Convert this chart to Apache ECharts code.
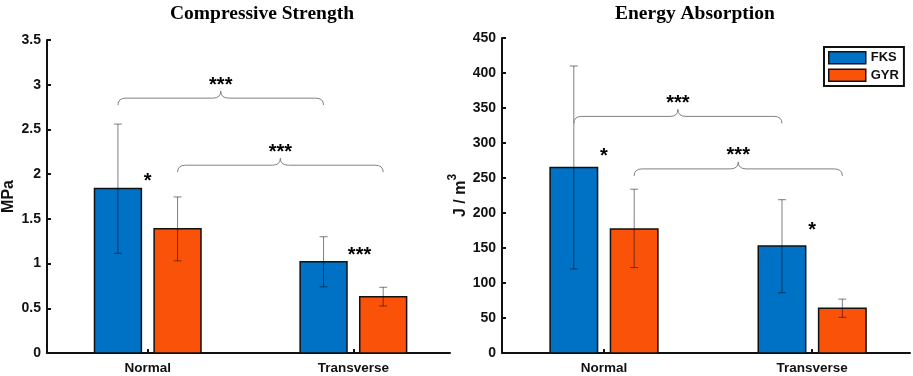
<!DOCTYPE html>
<html>
<head>
<meta charset="utf-8">
<script src="https://cdn.jsdelivr.net/npm/echarts@6/dist/echarts.min.js"></script>
<style>
  html, body { margin: 0; padding: 0; background: #fff; }
  #chart { width: 913px; height: 376px; }
</style>
</head>
<body>
<div id="chart"></div>
<script>
// categories and their positions on the x value axis
const categories = ['Normal', 'Transverse'];
const catPos = [1, 2];
const groups = ['FKS', 'GYR'];

// compressive strength (MPa): mean, lower and upper error bar ends
const strengthFKS = [1.84, 1.02];
const strengthFKSLow = [1.115, 0.74];
const strengthFKSHigh = [2.56, 1.30];
const strengthGYR = [1.39, 0.63];
const strengthGYRLow = [1.03, 0.526];
const strengthGYRHigh = [1.745, 0.735];

// energy absorption (J/m3)
const energyFKS = [265, 153];
const energyFKSLow = [120, 86];
const energyFKSHigh = [410, 219];
const energyGYR = [177, 64];
const energyGYRLow = [122, 51];
const energyGYRHigh = [234, 77];

// significance braces: [x from, x to, y level]
const strengthBraces = [[0.855, 1.855, 2.85], [1.145, 2.145, 2.10]];
const strengthBraceText = ['***', '***'];
const energyBraces = [[0.855, 1.855, 338], [1.145, 2.145, 263]];
const energyBraceText = ['***', '***'];

// single stars next to bar pairs: [x, y]
const strengthStars = [[1.0, 1.92], [2.03, 1.09]];
const strengthStarText = ['*', '***'];
const energyStars = [[1.0, 281], [2.0, 175]];
const energyStarText = ['*', '*'];

const BLUE = '#0072c6';
const ORANGE = '#fa5208';
const OFFSET = 0.145;   // bar centre offset from category, axis units
const BAR_W = 0.228;    // bar width, axis units
const FONT = 'Liberation Sans, Arial, sans-serif';
const SERIF = 'Liberation Serif, Times New Roman, serif';

var myChart = echarts.init(document.getElementById('chart'));

function rows(mean, low, high) {
	return categories.map((c, i) => [catPos[i], mean[i], low[i], high[i]]);
}

function barRenderer(offset, color) {
	return function (params, api) {
		const x = api.value(0) + offset;
		const base = api.coord([x, 0]);
		const top = api.coord([x, api.value(1)]);
		const lo = api.coord([x, api.value(2)]);
		const hi = api.coord([x, api.value(3)]);
		const halfW = api.size([BAR_W, 0])[0] / 2;
		const cap = 4;
		const errStyle = { stroke: 'rgba(0,0,0,0.5)', lineWidth: 1 };
		return {
			type: 'group',
			children: [
				{
					type: 'rect',
					shape: { x: top[0] - halfW, y: top[1], width: halfW * 2, height: base[1] - top[1] },
					style: { fill: color, stroke: '#111', lineWidth: 1.5 },
				},
				{ type: 'line', shape: { x1: hi[0], y1: hi[1], x2: lo[0], y2: lo[1] }, style: errStyle },
				{ type: 'line', shape: { x1: hi[0] - cap, y1: hi[1], x2: hi[0] + cap, y2: hi[1] }, style: errStyle },
				{ type: 'line', shape: { x1: lo[0] - cap, y1: lo[1], x2: lo[0] + cap, y2: lo[1] }, style: errStyle },
			],
		};
	};
}

function braceRenderer(labels) {
	return function (params, api) {
		const p1 = api.coord([api.value(0), api.value(2)]);
		const p2 = api.coord([api.value(1), api.value(2)]);
		const y = p1[1];
		const x1 = p1[0], x2 = p2[0], xm = (x1 + x2) / 2;
		const r = 8, h = 7;
		const d = 'M' + x1 + ' ' + (y + h) + ' Q' + x1 + ' ' + y + ' ' + (x1 + r) + ' ' + y +
			' L' + (xm - r) + ' ' + y + ' Q' + xm + ' ' + y + ' ' + xm + ' ' + (y - h) +
			' Q' + xm + ' ' + y + ' ' + (xm + r) + ' ' + y +
			' L' + (x2 - r) + ' ' + y + ' Q' + x2 + ' ' + y + ' ' + x2 + ' ' + (y + h);
		return {
			type: 'group',
			children: [
				{ type: 'path', shape: { pathData: d }, style: { fill: 'none', stroke: '#808080', lineWidth: 1 } },
				{
					type: 'text',
					x: xm, y: y - h + 4,
					style: { text: labels[params.dataIndex], fill: '#000', font: 'bold 20px ' + FONT, align: 'center', verticalAlign: 'bottom' },
				},
			],
		};
	};
}

function starRenderer(labels) {
	return function (params, api) {
		const p = api.coord([api.value(0), api.value(1)]);
		return {
			type: 'text',
			x: p[0], y: p[1],
			style: { text: labels[params.dataIndex], fill: '#000', font: 'bold 20px ' + FONT, align: 'center', verticalAlign: 'middle' },
		};
	};
}

function xAxisFor(gridIndex) {
	return {
		type: 'value',
		gridIndex: gridIndex,
		min: 0.51,
		max: 2.47,
		axisLine: { show: true, lineStyle: { color: '#111', width: 2 } },
		axisTick: { show: true, inside: true, length: 4, customValues: catPos, lineStyle: { color: '#111', width: 2 } },
		axisLabel: {
			customValues: catPos,
			formatter: (v) => categories[catPos.indexOf(Math.round(v))] || '',
			color: '#111', fontFamily: FONT, fontWeight: 'bold', fontSize: 13.5, margin: 8,
		},
		splitLine: { show: false },
	};
}

function yAxisFor(gridIndex, max, interval, name, gap) {
	return {
		type: 'value',
		gridIndex: gridIndex,
		min: 0,
		max: max,
		interval: interval,
		name: name,
		nameLocation: 'middle',
		nameGap: gap,
		nameTextStyle: {
			color: '#111', fontFamily: FONT, fontWeight: 'bold', fontSize: 16,
			rich: {
				a: { color: '#111', fontFamily: FONT, fontWeight: 'bold', fontSize: 16, lineHeight: 22, verticalAlign: 'bottom' },
				s: { color: '#111', fontFamily: FONT, fontWeight: 'bold', fontSize: 12, lineHeight: 22, verticalAlign: 'top' },
			},
		},
		axisLine: { show: true, lineStyle: { color: '#111', width: 2 } },
		axisTick: { show: true, inside: true, length: 4, lineStyle: { color: '#111', width: 2 } },
		axisLabel: { color: '#111', fontFamily: FONT, fontWeight: 'bold', fontSize: 14, margin: 6 },
		splitLine: { show: false },
	};
}

function custom(name, idx, color, data, renderItem, z) {
	return {
		type: 'custom',
		name: name,
		xAxisIndex: idx,
		yAxisIndex: idx,
		data: data,
		renderItem: renderItem,
		encode: { x: 0, y: 1 },
		itemStyle: color ? { color: color } : undefined,
		silent: true,
		z: z || 2,
	};
}

var option = {
	animation: false,
	title: [
		{ text: 'Compressive Strength', left: 165, top: -1, textStyle: { fontFamily: SERIF, fontWeight: 'bold', fontSize: 19.5, color: '#000' } },
		{ text: 'Energy Absorption', left: 610, top: -1, textStyle: { fontFamily: SERIF, fontWeight: 'bold', fontSize: 19.5, color: '#000' } },
	],
	legend: {
		data: groups,
		orient: 'vertical',
		left: 824,
		top: 47,
		icon: 'rect',
		itemWidth: 37,
		itemHeight: 12,
		itemGap: 4,
		padding: [4, 5, 4, 4],
		backgroundColor: '#fff',
		borderColor: '#111',
		borderWidth: 2,
		selectedMode: false,
		itemStyle: { borderColor: '#111', borderWidth: 1.5 },
		textStyle: { color: '#111', fontFamily: FONT, fontWeight: 'bold', fontSize: 13 },
	},
	grid: [
		{ left: 46, right: 463, top: 40, bottom: 23 },
		{ left: 502, right: 3, top: 38, bottom: 23 },
	],
	xAxis: [xAxisFor(0), xAxisFor(1)],
	yAxis: [yAxisFor(0, 3.5, 0.5, '{a|MPa}', 30), yAxisFor(1, 450, 50, '{a|J / m}{s|3}', 33)],
	series: [
		custom('FKS', 0, BLUE, rows(strengthFKS, strengthFKSLow, strengthFKSHigh), barRenderer(-OFFSET, BLUE)),
		custom('GYR', 0, ORANGE, rows(strengthGYR, strengthGYRLow, strengthGYRHigh), barRenderer(OFFSET, ORANGE)),
		custom('FKS', 1, BLUE, rows(energyFKS, energyFKSLow, energyFKSHigh), barRenderer(-OFFSET, BLUE)),
		custom('GYR', 1, ORANGE, rows(energyGYR, energyGYRLow, energyGYRHigh), barRenderer(OFFSET, ORANGE)),
		custom('braces0', 0, null, strengthBraces, braceRenderer(strengthBraceText), 3),
		custom('braces1', 1, null, energyBraces, braceRenderer(energyBraceText), 3),
		custom('stars0', 0, null, strengthStars, starRenderer(strengthStarText), 3),
		custom('stars1', 1, null, energyStars, starRenderer(energyStarText), 3),
	],
};

option && myChart.setOption(option);
</script>
</body>
</html>
